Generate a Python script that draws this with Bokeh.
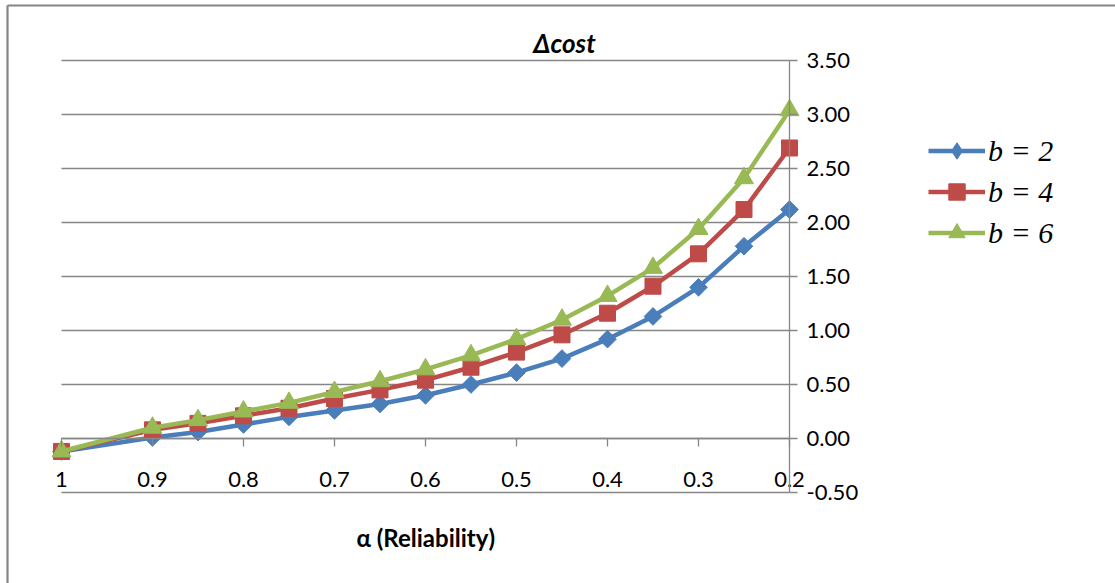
import math
from bokeh.plotting import figure
from bokeh.models import (Range1d, LinearAxis, FixedTicker, NumeralTickFormatter,
                          Legend, LegendItem, Label)
from bokeh.embed import file_html
from bokeh.resources import INLINE

# ---------------- data ----------------
alpha = [1, 0.9, 0.85, 0.8, 0.75, 0.7, 0.65, 0.6, 0.55, 0.5, 0.45, 0.4, 0.35, 0.3, 0.25, 0.2]
b2 = [-0.12, 0.01, 0.06, 0.13, 0.20, 0.26, 0.32, 0.40, 0.50, 0.61, 0.74, 0.92, 1.13, 1.40, 1.78, 2.12]
b4 = [-0.12, 0.08, 0.14, 0.21, 0.28, 0.37, 0.45, 0.54, 0.66, 0.80, 0.96, 1.16, 1.41, 1.71, 2.12, 2.69]
b6 = [-0.12, 0.10, 0.17, 0.25, 0.33, 0.43, 0.53, 0.64, 0.77, 0.92, 1.10, 1.32, 1.58, 1.94, 2.41, 3.04]
series_labels = ["b = 2", "b = 4", "b = 6"]
x_ticks = [1, 0.9, 0.8, 0.7, 0.6, 0.5, 0.4, 0.3, 0.2]
x_tick_labels = ["1", "0.9", "0.8", "0.7", "0.6", "0.5", "0.4", "0.3", "0.2"]
y_ticks = [-0.5, 0.0, 0.5, 1.0, 1.5, 2.0, 2.5, 3.0, 3.5]
title_text = "\u0394cost"
x_title = "\u03b1 (Reliability)"

GRAY = "#868686"
COLORS = ["#4A7EBB", "#BE4B48", "#98B954"]
MARKERS = ["square", "square", "triangle"]
ANGLES = [math.pi / 4, 0, 0]
SIZES = [12.5, 16, 19]
TICK_FONT = "Lato"

# the frame covers the whole canvas; ranges chosen so alpha 1..0.2 and y -0.5..3.5
# fall on the reference's plot area
p = figure(width=1115, height=583,
           x_range=Range1d(1.06703, -0.15824), y_range=Range1d(-1.34259, 4.05556),
           x_axis_location=None, y_axis_location=None,
           toolbar_location=None, output_backend="svg",
           min_border_left=0, min_border_right=0, min_border_top=0, min_border_bottom=0,
           outline_line_color=None, background_fill_color="white",
           border_fill_color="white")
p.title.visible = False
p.xgrid.visible = False
p.ygrid.visible = False

# chart border (top and left edges; right/bottom are cropped in the reference)
p.segment(x0=[1.05934, 1.05934], y0=[4.0093, 4.0093], x1=[-0.5, 1.05934], y1=[4.0093, -3.0],
          line_color=GRAY, line_width=2.2)

# horizontal gridlines spanning the alpha range
p.segment(x0=[max(alpha)] * len(y_ticks), x1=[min(alpha)] * len(y_ticks),
          y0=y_ticks, y1=y_ticks, line_color=GRAY, line_width=1.3)

# y axis at alpha = 0.2 (right side)
yaxis = LinearAxis(fixed_location=min(alpha), bounds=(min(y_ticks), max(y_ticks)),
                   ticker=FixedTicker(ticks=y_ticks),
                   formatter=NumeralTickFormatter(format="0.00"))
yaxis.axis_line_color = GRAY
yaxis.axis_line_width = 1.3
yaxis.major_tick_line_color = GRAY
yaxis.major_tick_line_width = 1.3
yaxis.major_tick_out = 8
yaxis.major_tick_in = 0
yaxis.minor_tick_line_color = None
yaxis.major_label_standoff = 9
yaxis.major_label_text_font = TICK_FONT
yaxis.major_label_text_font_size = "22px"
yaxis.major_label_text_color = "black"
p.add_layout(yaxis, "right")

# x axis crossing at y = 0
xaxis = LinearAxis(fixed_location=0, bounds=(min(alpha), max(alpha)),
                   ticker=FixedTicker(ticks=x_ticks),
                   major_label_overrides={t: l for t, l in zip(x_ticks, x_tick_labels)})
xaxis.axis_line_color = GRAY
xaxis.axis_line_width = 1.3
xaxis.major_tick_line_color = GRAY
xaxis.major_tick_line_width = 1.3
xaxis.major_tick_out = 8
xaxis.major_tick_in = 0
xaxis.minor_tick_line_color = None
xaxis.major_label_standoff = 25
xaxis.major_label_text_font = TICK_FONT
xaxis.major_label_text_font_size = "22px"
xaxis.major_label_text_color = "black"
p.add_layout(xaxis, "below")

items = []
for i, (ys, c, m, a, s, lab) in enumerate(zip([b2, b4, b6], COLORS, MARKERS, ANGLES,
                                              SIZES, series_labels)):
    lr = p.line(alpha, ys, line_color=c, line_width=4.5)
    sr = p.scatter(alpha, ys, marker=m, angle=a, size=s, fill_color=c, line_color=c)
    if i == 0:
        # diamond-shaped glyph for the legend entry (sits under the other series' first marker)
        sr = p.scatter(alpha[:1], ys[:1], marker="diamond", size=11,
                       fill_color=c, line_color=c)
    items.append(LegendItem(label=lab, renderers=[lr, sr]))

legend = Legend(items=items, location=(928, 330), orientation="vertical",
                glyph_width=57, glyph_height=41, label_height=41, spacing=0,
                padding=0, margin=0, label_standoff=3,
                label_text_font="Liberation Serif", label_text_font_style="italic",
                label_text_font_size="30px", label_text_color="black",
                background_fill_alpha=0, border_line_color=None)
p.add_layout(legend, "center")

p.add_layout(Label(x=0.4473, y=3.5185, text=title_text, text_align="center",
                   text_baseline="bottom", text_font=TICK_FONT,
                   text_font_style="bold italic", text_font_size="26px",
                   text_color="black"))
p.add_layout(Label(x=(max(alpha) + min(alpha)) / 2, y=-0.9167, text=x_title,
                   text_align="center", text_baseline="middle", text_font=TICK_FONT,
                   text_font_style="bold", text_font_size="24px", text_color="black"))

open("out.html", "w").write(file_html(p, INLINE))
